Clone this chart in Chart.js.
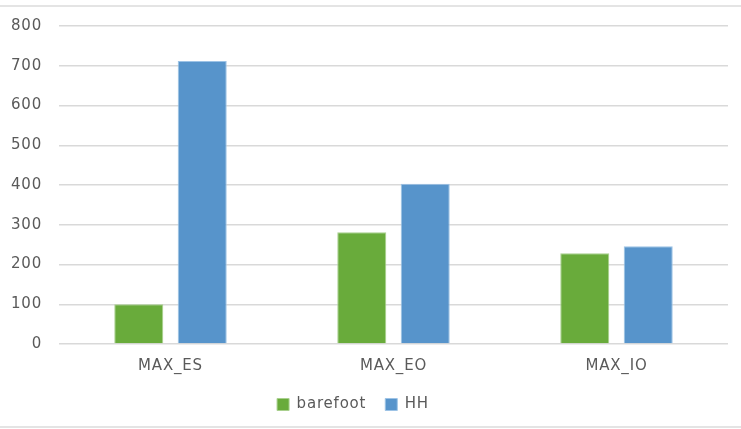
<!DOCTYPE html>
<html>
<head>
<meta charset="utf-8">
<script src="https://cdn.jsdelivr.net/npm/chart.js@4/dist/chart.umd.min.js"></script>
<style>
  html, body { margin: 0; padding: 0; background: #ffffff; }
  #wrap { position: relative; width: 741px; height: 429px; }
  #topline { position: absolute; left: 0; top: 5px; width: 741px; height: 2px; background: #e4e4e4; }
  #botline { position: absolute; left: 0; top: 426px; width: 741px; height: 2px; background: #e4e4e4; }
  canvas { position: absolute; left: 0; top: 0; }
</style>
</head>
<body>
<div id="wrap">
  <div id="topline"></div>
  <div id="botline"></div>
  <canvas id="chart" width="741" height="429"></canvas>
</div>
<script>
// Peak values per measure, for the two conditions
const categories = ['MAX_ES', 'MAX_EO', 'MAX_IO'];
const barefoot = [100, 281, 228];
const hh = [712, 403, 246];
const yTicks = [0, 100, 200, 300, 400, 500, 600, 700, 800];

const FONT = '"DejaVu Sans", "Liberation Sans", sans-serif';
const TEXT = '#5a5a5a';

// Slightly spaced lettering for all chart text
const spacing = {
  id: 'spacing',
  beforeUpdate(chart) { chart.ctx.letterSpacing = '0.8px'; },
  beforeDraw(chart) { chart.ctx.letterSpacing = '0.8px'; }
};

// Legend sits a little left of the canvas centre
const legendShift = {
  id: 'legendShift',
  afterLayout(chart) {
    const l = chart.legend;
    if (l) { l.left -= 11; l.right -= 11; }
  }
};

new Chart(document.getElementById('chart'), {
  type: 'bar',
  plugins: [spacing, legendShift],
  data: {
    labels: categories,
    datasets: [
      { label: 'barefoot', data: barefoot, backgroundColor: '#69ab3b', borderColor: '#a9d08e', borderWidth: 1 },
      { label: 'HH', data: hh, backgroundColor: '#5794cb', borderColor: '#9dc3e6', borderWidth: 1 }
    ]
  },
  options: {
    responsive: false,
    animation: false,
    devicePixelRatio: 1,
    layout: { padding: { left: 0, right: 13, top: 19, bottom: 7 } },
    datasets: { bar: { categoryPercentage: 0.569, barPercentage: 0.773 } },
    plugins: {
      tooltip: { enabled: false },
      legend: {
        position: 'bottom',
        labels: {
          font: { family: FONT, size: 15 },
          color: TEXT,
          boxWidth: 12,
          boxHeight: 12,
          padding: 19,
          useBorderRadius: false
        }
      }
    },
    scales: {
      x: {
        grid: { display: false },
        border: { display: false },
        afterFit: (axis) => { axis.height = 34; },
        ticks: { font: { family: FONT, size: 15 }, color: TEXT, padding: 5 }
      },
      y: {
        min: 0,
        max: 800,
        afterBuildTicks: (axis) => { axis.ticks = yTicks.map(v => ({ value: v })); },
        afterFit: (axis) => { axis.width = 59; },
        grid: { color: '#d9d9d9', lineWidth: 1.5, drawTicks: false },
        border: { display: false },
        ticks: { font: { family: FONT, size: 15 }, color: TEXT, padding: 17 }
      }
    }
  }
});
</script>
</body>
</html>
